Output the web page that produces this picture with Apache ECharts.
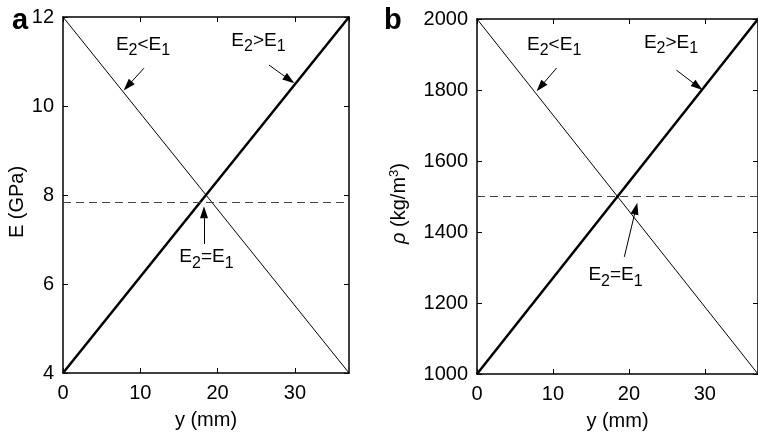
<!DOCTYPE html>
<html>
<head>
<meta charset="utf-8">
<script src="https://cdn.jsdelivr.net/npm/echarts@6/dist/echarts.min.js"></script>
<style>
  html, body { margin: 0; padding: 0; background: #fff; }
  #chart { width: 758px; height: 437px; }
</style>
</head>
<body>
<div id="chart"></div>
<script>
// Through-thickness coordinate y (mm) of the graded layer
const depthEnds = [0, 37];
const depthTicks = [0, 10, 20, 30];

// Panel a: Young's modulus E (GPa) at the two faces
const modulusRising = [4, 12];    // E2 > E1
const modulusFalling = [12, 4];   // E2 < E1
const modulusUniform = 7.83;      // E2 = E1
const modulusTicks = [4, 6, 8, 10, 12];

// Panel b: density rho (kg/m^3) at the two faces
const densityRising = [1000, 2000];
const densityFalling = [2000, 1000];
const densityUniform = 1500;
const densityTicks = [1000, 1200, 1400, 1600, 1800, 2000];

// Case labels
const caseLabels = {
  lt: '{m|E}{s|2}{m|<E}{s|1}',
  gt: '{m|E}{s|2}{m|>E}{s|1}',
  eq: '{m|E}{s|2}{m|=E}{s|1}'
};

const FONT = '"Liberation Sans", Arial, Helvetica, sans-serif';
const INK = '#000';

// Callout anchors in data units: [x, value, label]
const notesA = [[10.35, 11.38, 'lt'], [25.29, 11.47, 'gt'], [18.56, 6.61, 'eq']];
const notesB = [[10.16, 1928, 'lt'], [25.55, 1934, 'gt'], [18.24, 1280, 'eq']];
// Callout arrows in data units: [tail, head centre]
const arrowsA = [[[10.48, 10.85], [8.37, 10.45]], [[26.65, 10.92], [29.3, 10.59]], [[18.24, 6.90], [18.24, 7.61]]];
const arrowsB = [[[10.48, 1862], [8.36, 1809]], [[26.26, 1856], [29.07, 1810]], [[19.4, 1330], [20.92, 1466]]];

const pairs = (xs, ys) => xs.map((x, i) => [x, ys[i]]);

const richText = {
  m: { fontSize: 19, fontFamily: FONT, color: INK },
  s: { fontSize: 16, fontFamily: FONT, color: INK, padding: [13, 0, 0, 0] }
};

function noteMarks(notes) {
  return {
    silent: true,
    symbol: 'circle',
    symbolSize: 1,
    itemStyle: { color: 'rgba(0,0,0,0)' },
    label: { show: true, position: 'inside', rich: richText },
    data: notes.map(([x, v, key]) => ({
      coord: [x, v],
      label: { formatter: caseLabels[key] }
    }))
  };
}

function arrowMarks(arrows) {
  const data = arrows.map(([tail, head]) => [
    { coord: tail, symbol: 'none' },
    { coord: head, symbol: 'triangle', symbolSize: [8, 12] }
  ]);
  return {
    silent: true,
    animation: false,
    label: { show: false },
    lineStyle: { color: INK, width: 1, type: 'solid' },
    emphasis: { disabled: true },
    data
  };
}

function dashedMark(value) {
  return {
    silent: true,
    animation: false,
    symbol: ['none', 'none'],
    label: { show: false },
    emphasis: { disabled: true },
    lineStyle: { color: '#444', width: 1, type: [8, 5] },
    data: [{ yAxis: value }]
  };
}

function valueAxis(extra) {
  return Object.assign({
    type: 'value',
    splitLine: { show: false },
    axisLine: { show: true, onZero: false, lineStyle: { color: INK, width: 1.5 } },
    axisTick: { show: true, inside: true, length: 5, lineStyle: { color: INK, width: 1 } },
    axisLabel: { show: true, color: INK, fontFamily: FONT, fontSize: 20, margin: 9, formatter: v => String(v) },
    nameTextStyle: { color: INK, fontFamily: FONT, fontSize: 20 }
  }, extra);
}

const xStep = depthTicks[1] - depthTicks[0];
const eStep = modulusTicks[1] - modulusTicks[0];
const rStep = densityTicks[1] - densityTicks[0];

function xAxes(gridIndex) {
  const base = { gridIndex, min: depthTicks[0], max: depthEnds[1], interval: xStep };
  return [
    valueAxis(Object.assign({}, base, {
      position: 'bottom',
      name: 'y (mm)', nameLocation: 'middle', nameGap: 37,
      axisLabel: { color: INK, fontFamily: FONT, fontSize: 20, margin: 10, showMaxLabel: false, formatter: v => String(v) }
    })),
    valueAxis(Object.assign({}, base, { position: 'top', axisLabel: { show: false } }))
  ];
}

function yAxes(gridIndex, ticks, step, name, gap, rich) {
  const base = { gridIndex, min: ticks[0], max: ticks[ticks.length - 1], interval: step };
  const left = valueAxis(Object.assign({}, base, {
    position: 'left', name, nameLocation: 'middle', nameGap: gap
  }));
  left.nameTextStyle = { color: INK, fontFamily: FONT, fontSize: 20, padding: [0, 14, 0, 0] };
  if (rich) left.nameTextStyle.rich = rich;
  return [
    left,
    valueAxis(Object.assign({}, base, { position: 'right', axisLabel: { show: false } }))
  ];
}

const chart = echarts.init(document.getElementById('chart'), null, { renderer: 'canvas' });

chart.setOption({
  animation: false,
  backgroundColor: '#fff',
  graphic: [
    { type: 'text', left: 12, top: 6, style: { text: 'a', font: 'bold 29px ' + FONT, fill: INK } },
    { type: 'text', left: 384, top: 6, style: { text: 'b', font: 'bold 29px ' + FONT, fill: INK } }
  ],
  grid: [
    { left: 63, top: 17, width: 286, height: 356 },
    { left: 477, top: 19, width: 286, height: 355 }
  ],
  xAxis: [].concat(xAxes(0), xAxes(1)),
  yAxis: [].concat(
    yAxes(0, modulusTicks, eStep, 'E (GPa)', 31),
    yAxes(1, densityTicks, rStep, '{it|ρ} (kg/m{sup|3})', 67, {
      it: { fontStyle: 'italic', fontFamily: FONT, fontSize: 20, color: INK },
      sup: { fontFamily: FONT, fontSize: 13, color: INK, padding: [0, 0, 9, 0] }
    })
  ),
  series: [
    {
      type: 'line', xAxisIndex: 0, yAxisIndex: 0,
      data: pairs(depthEnds, modulusRising),
      showSymbol: false, lineStyle: { color: INK, width: 2.5 },
      markLine: dashedMark(modulusUniform)
    },
    {
      type: 'line', xAxisIndex: 0, yAxisIndex: 0,
      data: pairs(depthEnds, modulusFalling),
      showSymbol: false, lineStyle: { color: INK, width: 1 },
      markLine: arrowMarks(arrowsA),
      markPoint: noteMarks(notesA)
    },
    {
      type: 'line', xAxisIndex: 2, yAxisIndex: 2,
      data: pairs(depthEnds, densityRising),
      showSymbol: false, lineStyle: { color: INK, width: 2.5 },
      markLine: dashedMark(densityUniform)
    },
    {
      type: 'line', xAxisIndex: 2, yAxisIndex: 2,
      data: pairs(depthEnds, densityFalling),
      showSymbol: false, lineStyle: { color: INK, width: 1 },
      markLine: arrowMarks(arrowsB),
      markPoint: noteMarks(notesB)
    }
  ]
});
</script>
</body>
</html>
